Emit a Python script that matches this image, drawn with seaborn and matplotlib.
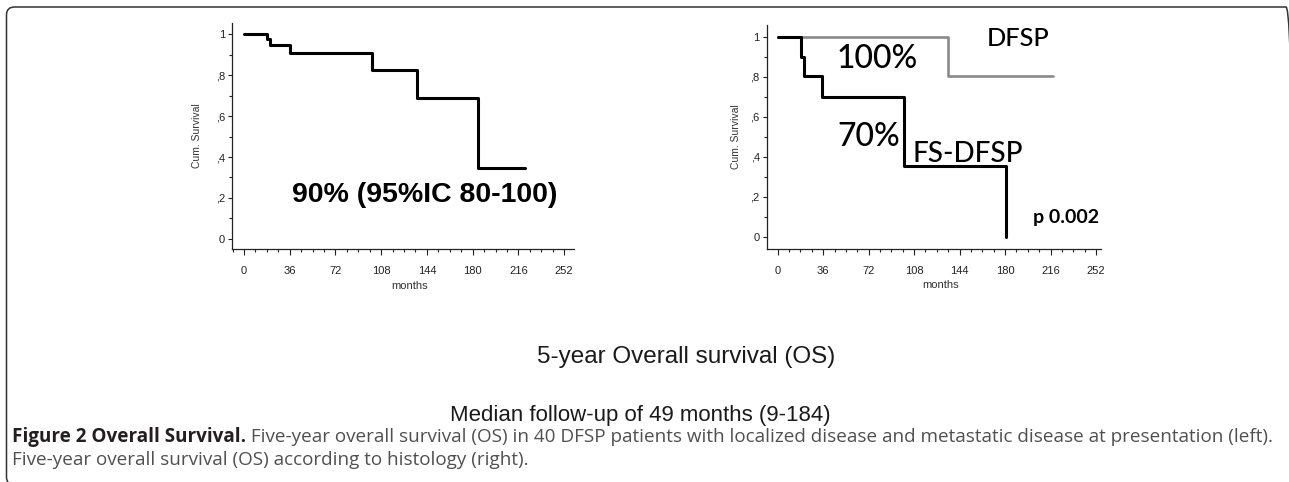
import matplotlib
matplotlib.use('Agg')
import matplotlib.pyplot as plt
from matplotlib.patches import FancyBboxPatch
from matplotlib.ticker import MultipleLocator, FixedLocator
from matplotlib.transforms import IdentityTransform
import seaborn as sns
import pandas as pd

W, H = 1289, 482

# left panel: overall survival, all patients
os_months = [0, 18, 20.5, 36, 101, 136, 184, 221]
os_surv = [1.0, 0.975, 0.946, 0.909, 0.824, 0.689, 0.348, 0.348]

# right panel: by histology
dfsp_months = [0, 135, 218]
dfsp_surv = [1.0, 0.804, 0.804]
fs_months = [0, 18.2, 20.8, 34.8, 100.3, 181]
fs_surv = [1.0, 0.90, 0.804, 0.70, 0.356, 0.0]

x_ticks = [0, 36, 72, 108, 144, 180, 216, 252]
y_ticks = [0, 0.2, 0.4, 0.6, 0.8, 1.0]
y_ticklabels = ['0', ',2', ',4', ',6', ',8', '1']

sns.set_style('white')
plt.rcParams['font.family'] = ['Liberation Sans', 'DejaVu Sans']
plt.rcParams['text.color'] = 'black'

fig = plt.figure(figsize=(W / 100, H / 100), dpi=100)


def px_axes(x0, y0, x1, y1):
    # pixel box (from top-left) -> figure fraction axes
    return fig.add_axes([x0 / W, 1 - y1 / H, (x1 - x0) / W, (y1 - y0) / H])


def style_axes(ax, xlim, ylim, ylab_x):
    ax.set_xlim(*xlim)
    ax.set_ylim(*ylim)
    for s in ['top', 'right']:
        ax.spines[s].set_visible(False)
    for s in ['left', 'bottom']:
        ax.spines[s].set_color('#222222')
        ax.spines[s].set_linewidth(0.9)
    ax.xaxis.set_major_locator(FixedLocator(x_ticks))
    ax.xaxis.set_minor_locator(MultipleLocator(9))
    ax.yaxis.set_major_locator(FixedLocator(y_ticks))
    ax.yaxis.set_minor_locator(MultipleLocator(0.1))
    ax.set_xticklabels([str(t) for t in x_ticks])
    ax.set_yticklabels(y_ticklabels)
    ax.tick_params(which='both', direction='out', color='#222222', width=0.8,
                   labelsize=8, labelcolor='#222222')
    ax.tick_params(axis='x', which='both', bottom=True)
    ax.tick_params(axis='y', which='both', left=True)
    ax.tick_params(axis='x', which='major', length=4, pad=8)
    ax.tick_params(axis='x', which='minor', length=2.5)
    ax.tick_params(axis='y', which='major', length=3, pad=2)
    ax.tick_params(axis='y', which='minor', length=2)
    ax.set_xlabel('months', fontsize=8, color='#333333')
    ax.set_ylabel('Cum. Survival', fontsize=7.5, color='#333333')
    ax.xaxis.set_label_coords(0.52, -0.14)
    ax.yaxis.set_label_coords(ylab_x, 0.5)
    ax.grid(False)
    ax.patch.set_alpha(0)


# left panel
ax1 = px_axes(232, 23, 574, 249)
df_os = pd.DataFrame({'months': os_months, 'surv': os_surv})
sns.lineplot(data=df_os, x='months', y='surv', ax=ax1, color='black',
             linewidth=2.2, drawstyle='steps-post', estimator=None, sort=False)
style_axes(ax1, (-9.45, 259.8), (-0.049, 1.054), -0.088)
ax1.text(37.8, 0.178, '90% (95%IC 80-100)', fontsize=20.5, fontweight='bold',
         ha='left', va='baseline', color='black')

# right panel
ax2 = px_axes(766.7, 25, 1100.7, 249)
df_dfsp = pd.DataFrame({'months': dfsp_months, 'surv': dfsp_surv})
df_fs = pd.DataFrame({'months': fs_months, 'surv': fs_surv})
sns.lineplot(data=df_dfsp, x='months', y='surv', ax=ax2, color='#8a8a8a',
             linewidth=1.9, drawstyle='steps-post', estimator=None, sort=False)
sns.lineplot(data=df_fs, x='months', y='surv', ax=ax2, color='black',
             linewidth=2.2, drawstyle='steps-post', estimator=None, sort=False)
style_axes(ax2, (-8.7, 255.7), (-0.06, 1.058), -0.077)

lato = ['Lato', 'DejaVu Sans']
ax2.text(165.7, 0.953, 'DFSP', fontsize=18.3, family=lato, fontweight='medium',
         ha='left', va='baseline', color='black')
ax2.text(47, 0.841, '100%', fontsize=23, family=lato, fontweight='medium',
         ha='left', va='baseline', color='black')
ax2.text(47, 0.452, '70%', fontsize=23, family=lato, fontweight='medium',
         ha='left', va='baseline', color='black')
ax2.text(107, 0.374, 'FS-DFSP', fontsize=20, family=lato, fontweight='medium',
         ha='left', va='baseline', color='black')
ax2.text(202, 0.072, 'p 0.002', fontsize=14, family=lato, fontweight='bold',
         ha='left', va='baseline', color='black')

# titles under the panels
fig.text(686 / W, 1 - 357 / H, '5-year Overall survival (OS)', fontsize=17.5,
         ha='center', va='center', color='#1a1a1a')
fig.text(640 / W, 1 - 415 / H, 'Median follow-up of 49 months (9-184)', fontsize=16,
         ha='center', va='center', color='#1a1a1a')

# caption
cap_font = ['Open Sans', 'DejaVu Sans']
size0 = 11
t1 = fig.text(12 / W, 1 - 437 / H, 'Figure 2 Overall Survival.', fontsize=size0,
              family=cap_font, fontweight='bold', color='#231f20', va='center')
t2 = fig.text(0, 1 - 437 / H,
              ' Five-year overall survival (OS) in 40 DFSP patients with localized '
              'disease and metastatic disease at presentation (left).',
              fontsize=size0, family=cap_font, color='#505050', va='center')
t3 = fig.text(12 / W, 1 - 460 / H,
              'Five-year overall survival (OS) according to histology (right).',
              fontsize=size0, family=cap_font, color='#505050', va='center')

fig.canvas.draw()
r = fig.canvas.get_renderer()
w1 = t1.get_window_extent(r).width
w2 = t2.get_window_extent(r).width
scale = (1276 - 12) / (w1 + w2)
for t in (t1, t2, t3):
    t.set_fontsize(size0 * scale)
fig.canvas.draw()
w1 = t1.get_window_extent(r).width
t2.set_x((12 + w1) / W)

# rounded frame around the figure (right and bottom edges fall off the image)
frame = FancyBboxPatch((6.5, -3), 1294 - 6.5, 478, boxstyle='round,pad=0,rounding_size=8',
                       transform=IdentityTransform(), fill=False,
                       edgecolor='#333333', linewidth=1.1)
fig.add_artist(frame)

fig.savefig('out.png', dpi=100)
